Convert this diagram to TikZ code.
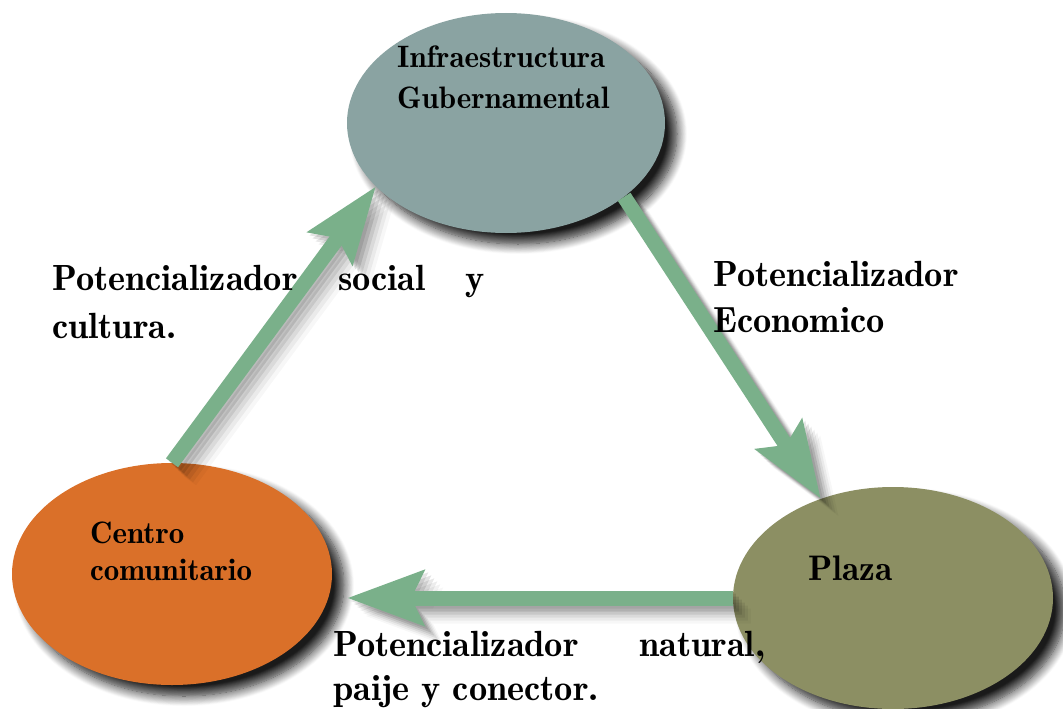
\documentclass[tikz,border=0pt]{standalone}
\usepackage{fontspec}
\newfontfamily\demi{lmromandemi10-regular}[Extension=.otf]
\usetikzlibrary{shapes.geometric,arrows.meta,shadows.blur}
\definecolor{govc}{RGB}{138,163,162}
\definecolor{centc}{RGB}{218,112,41}
\definecolor{plazac}{RGB}{140,143,99}
\definecolor{arrc}{RGB}{122,176,138}
\begin{document}
\begin{tikzpicture}[x=1pt,y=-1pt,
  blob/.style={ellipse, inner sep=0pt, minimum width=320pt, minimum height=222pt,
    blur shadow={shadow xshift=12pt, shadow yshift=-11pt, shadow blur radius=10pt, shadow blur steps=12, shadow opacity=90}},
  headtip/.style={-{Stealth[length=76pt,width=54pt,inset=12pt]}},
  flow/.style={draw=arrc, line width=15pt, headtip},
  flowshade/.style={draw=black, line width=15pt, headtip, fill=black},
  nodetxt/.style={font=\demi\fontsize{31}{38}\selectfont, anchor=base west, inner sep=0pt, text=black},
  lbl/.style={font=\demi\fontsize{36.4}{46}\selectfont, anchor=base west, inner sep=0pt, text=black}]
\useasboundingbox (0,0) rectangle (1063,709);

% ellipses
\node[blob, fill=govc, minimum width=318pt, minimum height=220pt] (gov) at (506,123) {};
\node[blob, fill=centc] (cent) at (172,574) {};
\node[blob, fill=plazac] (plaza) at (893,598) {};

% arrow shadows
\foreach \o/\op in {3/0.10, 6/0.11, 9/0.09, 12/0.07, 15/0.05, 18/0.03}{
  \begin{scope}[transparency group, opacity=\op, transform canvas={shift={(\o pt,-\o pt)}}]
    \draw[flowshade] (gov.-32) -- (plaza.126);
    \draw[flowshade, shorten >=15pt] (plaza.180) -- (plaza.180 -| cent.east);
    \draw[flowshade] (cent.north) -- (gov.206);
  \end{scope}
}

% arrows
\draw[flow] (gov.-32) -- (plaza.126);
\draw[flow, shorten >=15pt] (plaza.180) -- (plaza.180 -| cent.east);
\draw[flow] (cent.north) -- (gov.206);

% node texts
\node[nodetxt] (govt1) at (397,68) {Infraestructura};
\node[nodetxt] (govt2) at (397,108) {Gubernamental};
\node[nodetxt] (centt1) at (90,543) {Centro};
\node[nodetxt] (centt2) at (90,580) {comunitario};
\node[nodetxt, font=\demi\fontsize{35.5}{40}\selectfont] (plazat) at (808,580) {Plaza};

% labels
\node[lbl] (la1) at (52,290) {\makebox[433pt][l]{Potencializador\hfill social\hfill y}};
\node[lbl] (la2) at (52,338) {cultura.};
\node[lbl] (lb1) at (713,286) {Potencializador};
\node[lbl] (lb2) at (713,332) {Economico};
\node[lbl] (lc1) at (333,656) {\makebox[432pt][l]{Potencializador\hfill natural,}};
\node[lbl] (lc2) at (333,700) {paije y conector.};
\end{tikzpicture}
\end{document}
